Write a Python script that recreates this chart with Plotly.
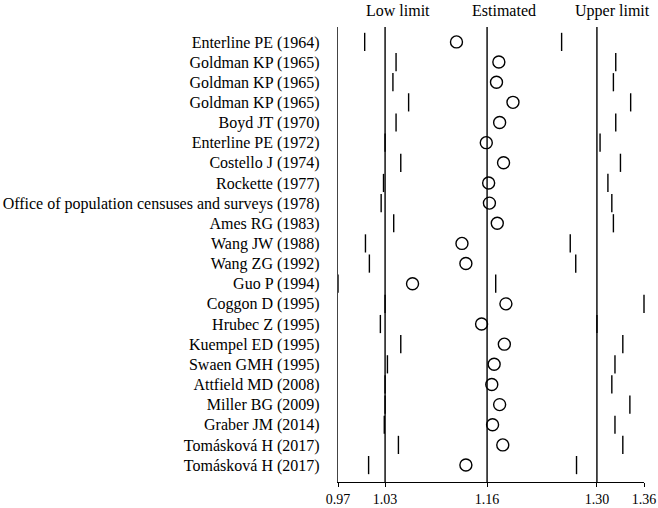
import plotly.graph_objects as go

studies = [
    "Enterline PE (1964)", "Goldman KP (1965)", "Goldman KP (1965)", "Goldman KP (1965)",
    "Boyd JT (1970)", "Enterline PE (1972)", "Costello J (1974)", "Rockette (1977)",
    "Office of population censuses and surveys (1978)", "Ames RG (1983)", "Wang JW (1988)",
    "Wang ZG (1992)", "Guo P (1994)", "Coggon D (1995)", "Hrubec Z (1995)",
    "Kuempel ED (1995)", "Swaen GMH (1995)", "Attfield MD (2008)", "Miller BG (2009)",
    "Graber JM (2014)", "Tomásková H (2017)", "Tomásková H (2017)",
]
low = [1.004, 1.044, 1.040, 1.060, 1.044, 1.030, 1.050, 1.028, 1.025, 1.041, 1.005,
       1.010, 0.970, 1.030, 1.024, 1.050, 1.033, 1.030, 1.030, 1.029, 1.047, 1.009]
est = [1.121, 1.175, 1.172, 1.193, 1.176, 1.159, 1.181, 1.162, 1.163, 1.173, 1.128,
       1.133, 1.065, 1.184, 1.153, 1.182, 1.169, 1.166, 1.176, 1.167, 1.180, 1.133]
upper = [1.255, 1.324, 1.321, 1.343, 1.324, 1.304, 1.330, 1.314, 1.319, 1.321, 1.266,
         1.273, 1.171, 1.360, 1.300, 1.333, 1.323, 1.319, 1.342, 1.323, 1.333, 1.274]

ref_lines = [1.03, 1.16, 1.30]
tick_vals = [0.97, 1.03, 1.16, 1.30, 1.36]
tick_text = ["0.97", "1.03", "1.16", "1.30", "1.36"]
headers = ["Low limit", "Estimated", "Upper limit"]
header_x = [1.0464, 1.1815, 1.320]

idx = list(range(len(studies)))
FONT = "Liberation Serif"
FS = 16

fig = go.Figure()
tick_marker = dict(symbol="line-ns", size=13, color="black", line=dict(color="black", width=1.4))
fig.add_trace(go.Scatter(x=low, y=idx, mode="markers", marker=tick_marker, showlegend=False,
                         cliponaxis=False))
fig.add_trace(go.Scatter(x=upper, y=idx, mode="markers", marker=tick_marker, showlegend=False,
                         cliponaxis=False))
fig.add_trace(go.Scatter(x=est, y=idx, mode="markers",
                         marker=dict(symbol="circle-open", size=12, color="black",
                                     line=dict(color="black", width=1.4)),
                         showlegend=False, cliponaxis=False))

for v in ref_lines:
    fig.add_shape(type="line", xref="x", yref="paper", x0=v, x1=v, y0=0, y1=1,
                  line=dict(color="black", width=1.4), layer="below")

for t, hx in zip(headers, header_x):
    fig.add_annotation(text=t, x=hx, xref="x", y=1.057, yref="paper", showarrow=False,
                       xanchor="center", yanchor="top", borderpad=0,
                       font=dict(family=FONT, size=FS, color="black"))

fig.update_layout(
    width=658, height=508,
    margin=dict(l=338, r=14, t=27, b=26, autoexpand=False),
    paper_bgcolor="white", plot_bgcolor="white",
    font=dict(family=FONT, size=FS, color="black"),
    xaxis=dict(range=[0.97, 1.36], tickvals=tick_vals, ticktext=tick_text, automargin=False,
               showgrid=False, zeroline=False, showline=True, linecolor="black", linewidth=1.4,
               ticks="outside", ticklen=4, tickcolor="black", tickwidth=1.4,
               tickfont=dict(family=FONT, size=14, color="black")),
    yaxis=dict(range=[21.84, -0.74], tickvals=idx, ticktext=studies, automargin=False,
               showgrid=False, zeroline=False, showline=True, linecolor="#444", linewidth=1.4,
               ticks="", ticklabelstandoff=14,
               tickfont=dict(family=FONT, size=FS, color="black")),
)

fig.write_html(
    "out.html",
    config={"displayModeBar": False},
    post_script="document.body.style.margin='0';document.body.style.overflow='hidden';",
)
